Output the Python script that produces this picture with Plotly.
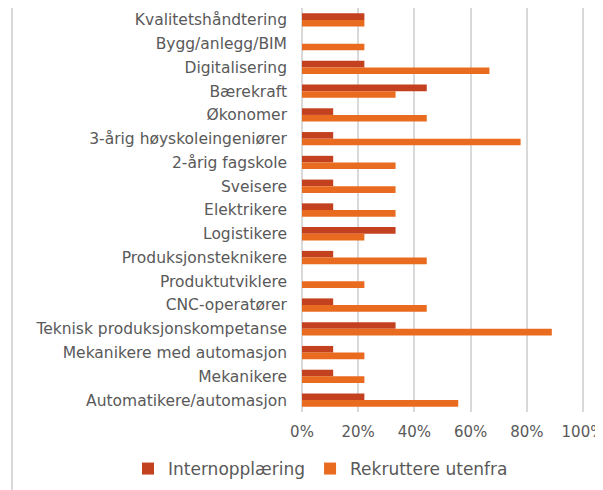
import plotly.graph_objects as go

categories = [
    "Kvalitetshåndtering",
    "Bygg/anlegg/BIM",
    "Digitalisering",
    "Bærekraft",
    "Økonomer",
    "3-årig høyskoleingeniører",
    "2-årig fagskole",
    "Sveisere",
    "Elektrikere",
    "Logistikere",
    "Produksjonsteknikere",
    "Produktutviklere",
    "CNC-operatører",
    "Teknisk produksjonskompetanse",
    "Mekanikere med automasjon",
    "Mekanikere",
    "Automatikere/automasjon",
]

internopplaering = [0.222, 0.0, 0.222, 0.444, 0.111, 0.111, 0.111, 0.111, 0.111,
                    0.333, 0.111, 0.0, 0.111, 0.333, 0.111, 0.111, 0.222]
rekruttere_utenfra = [0.222, 0.222, 0.667, 0.333, 0.444, 0.778, 0.333, 0.333, 0.333,
                      0.222, 0.444, 0.222, 0.444, 0.889, 0.222, 0.222, 0.556]

tick_values = [0, 0.2, 0.4, 0.6, 0.8, 1.0]
tick_labels = ["0%", "20%", "40%", "60%", "80%", "100%"]

C_INT = "#C4411F"
C_REK = "#E96B1F"
GRAY_TXT = "#595959"
GRID = "#D9D9D9"
FONT = "DejaVu Sans"

fig = go.Figure()
fig.add_trace(go.Bar(y=categories, x=internopplaering, orientation="h",
                     name="Internopplæring", marker=dict(color=C_INT, line=dict(width=0))))
fig.add_trace(go.Bar(y=categories, x=rekruttere_utenfra, orientation="h",
                     name="Rekruttere utenfra", marker=dict(color=C_REK, line=dict(width=0))))

# the page body adds an 8px offset, so the figure is drawn 8px smaller
OFF = 8
W, H = 603 - OFF, 490 - OFF
SCALE = 281          # pixels for 0..100 %
EXTRA = 3            # small extra room at the right end of the axis
L, T, B = 302 - OFF, 8 - OFF, 78
R = W - L - SCALE - EXTRA
pw = W - L - R
ph = H - T - B

def px_to_xpaper(px):
    return (px - OFF - L) / pw

def px_to_ypaper(py):
    return (H - B - (py - OFF)) / ph

# vertical grid line at the last tick (Excel shows the 100 % line)
grid_shapes = [dict(type="line", xref="x", yref="paper",
                    x0=tick_values[-1], x1=tick_values[-1], y0=0, y1=1,
                    line=dict(color=GRID, width=1.5), layer="below")]

border_shape = [dict(type="line", xref="paper", yref="paper",
                     x0=px_to_xpaper(12), x1=px_to_xpaper(12),
                     y0=px_to_ypaper(H + OFF + 2), y1=px_to_ypaper(OFF - 2),
                     line=dict(color=GRID, width=2))]

fig.update_layout(
    width=W, height=H,
    margin=dict(l=L, r=R, t=T, b=B, pad=0, autoexpand=False),
    paper_bgcolor="white", plot_bgcolor="white",
    barmode="group", bargap=0.44, bargroupgap=0,
    font=dict(family=FONT, color=GRAY_TXT, size=15),
    xaxis=dict(range=[0, (SCALE + EXTRA) / SCALE], tickvals=tick_values, ticktext=tick_labels,
               showgrid=True, gridcolor=GRID, gridwidth=1.5,
               zeroline=True, zerolinecolor=GRID, zerolinewidth=1.5,
               showline=False, ticks="", tickfont=dict(size=15, color=GRAY_TXT),
               ticklabelstandoff=9, ticklabeloverflow="allow",
               fixedrange=True, automargin=False),
    yaxis=dict(autorange="reversed", showgrid=False, showline=False, ticks="",
               tickfont=dict(size=15.5, color=GRAY_TXT), ticklabelstandoff=14,
               fixedrange=True, automargin=False),
    legend=dict(orientation="h", x=px_to_xpaper(128), xanchor="left",
                y=px_to_ypaper(469), yanchor="middle",
                font=dict(size=17, color=GRAY_TXT), bgcolor="rgba(0,0,0,0)",
                itemwidth=30, traceorder="normal"),
    shapes=grid_shapes + border_shape,
)

fig.write_html("out.html")
